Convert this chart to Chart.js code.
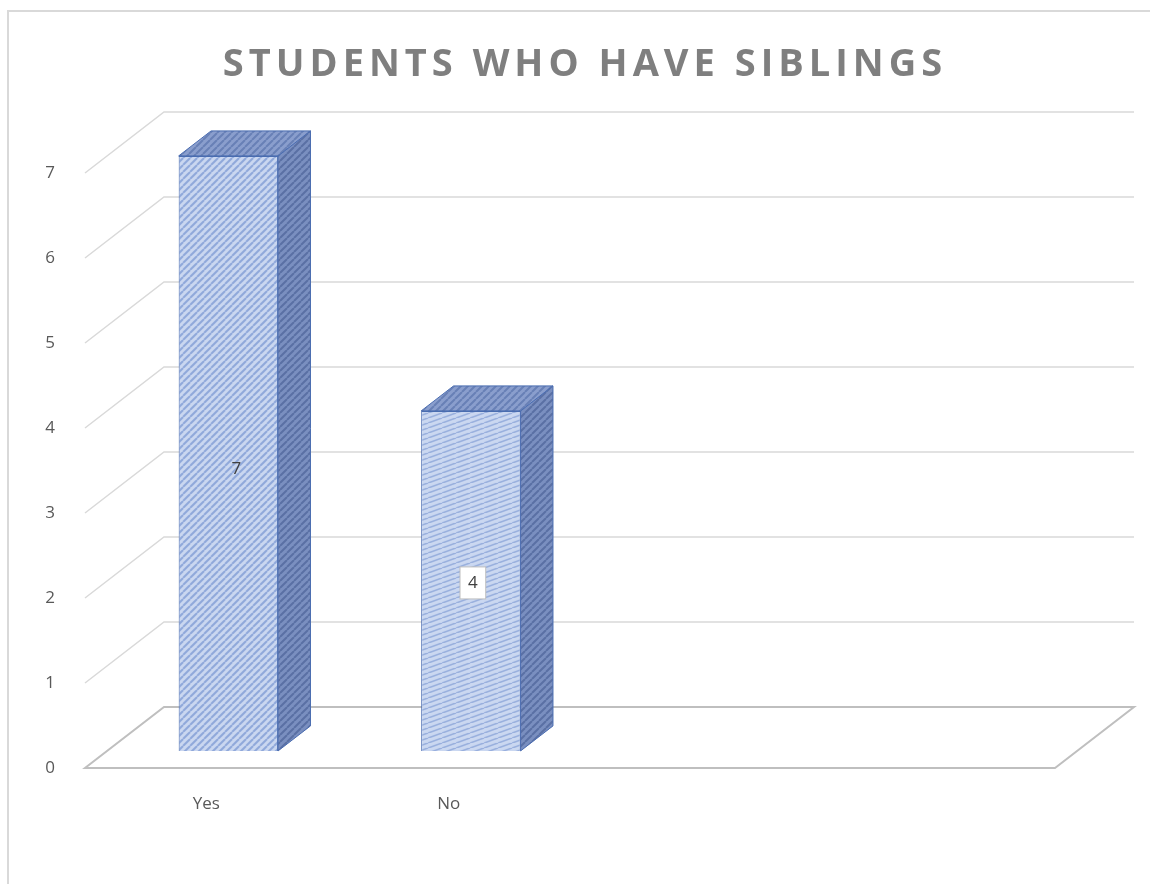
<!DOCTYPE html>
<html>
<head>
<meta charset="utf-8">
<script src="https://cdn.jsdelivr.net/npm/chart.js@4.4.1/dist/chart.umd.min.js"></script>
<style>
  html, body { margin: 0; padding: 0; background: #fff; }
  #wrap { position: relative; width: 1150px; height: 884px; overflow: hidden; }
  #frame { position: absolute; left: 7px; top: 10px; width: 1200px; height: 900px;
           border-left: 2px solid #d9d9d9; border-top: 2px solid #d9d9d9; }
  canvas { position: absolute; left: 0; top: 0; }
</style>
</head>
<body>
<div id="wrap">
  <div id="frame"></div>
  <canvas id="siblingsChart" width="1150" height="884"></canvas>
</div>
<script>
// --- data ---
const categories = ['Yes', 'No', '', ''];
const siblingCounts = [7, 4, null, null];
const yMin = 0;
const yMax = 7;

// --- fake 3D depth (pixels of full floor depth) ---
const DX = 79, DY = -61;
const FRONT = 0.28, BACK = 0.69;   // where the bars sit inside the depth

function stripes(bg, fg, w, h, lw) {
  const c = document.createElement('canvas');
  c.width = w; c.height = h;
  const g = c.getContext('2d');
  g.fillStyle = bg;
  g.fillRect(0, 0, w, h);
  g.strokeStyle = fg;
  g.lineWidth = lw;
  g.beginPath();
  for (const o of [-w, 0, w]) { g.moveTo(o, h); g.lineTo(o + w, 0); }
  g.stroke();
  return g.createPattern(c, 'repeat');
}

const frontFills = [
  stripes('#cbd8f1', '#8ea7da', 7, 7, 2),
  stripes('#cbd8f1', '#97aedd', 14, 5, 1.6)
];
const sideFill = stripes('#7a8fc0', '#5a70a4', 7, 7, 2);
const topFill = stripes('#8a9ecd', '#6880b6', 7, 7, 2);
const edgeColor = '#4a6cb0';

const depthPlugin = {
  id: 'depth3d',
  afterLayout(chart) {
    // spaced-out title letters like the original
    const tb = chart.titleBlock;
    if (tb && !tb._spaced) {
      const draw = tb.draw.bind(tb);
      tb.draw = function () {
        chart.ctx.save();
        chart.ctx.letterSpacing = '5px';
        chart.ctx.translate(10, 0);
        draw();
        chart.ctx.restore();
      };
      tb._spaced = true;
    }
  },
  beforeDatasetsDraw(chart) {
    const { ctx, chartArea: a, scales: { y } } = chart;
    ctx.save();
    // back wall + left wall grid
    ctx.strokeStyle = '#d9d9d9';
    ctx.lineWidth = 1.5;
    y.ticks.forEach(t => {
      if (t.value === yMin) return;
      const py = y.getPixelForValue(t.value);
      ctx.beginPath();
      ctx.moveTo(a.left, py);
      ctx.lineTo(a.left + DX, py + DY);
      ctx.lineTo(a.right + DX, py + DY);
      ctx.stroke();
    });
    // floor
    const p0 = y.getPixelForValue(yMin);
    ctx.strokeStyle = '#bfbfbf';
    ctx.lineWidth = 2;
    ctx.beginPath();
    ctx.moveTo(a.left, p0);
    ctx.lineTo(a.right, p0);
    ctx.lineTo(a.right + DX, p0 + DY);
    ctx.lineTo(a.left + DX, p0 + DY);
    ctx.closePath();
    ctx.stroke();
    ctx.restore();

    // bars are drawn pushed back into the depth
    ctx.save();
    ctx.translate(DX * FRONT, DY * FRONT);
  },
  afterDatasetsDraw(chart, args, opts) {
    const { ctx } = chart;
    ctx.restore();
    const ox = DX * FRONT, oy = DY * FRONT;
    const dx = DX * (BACK - FRONT), dy = DY * (BACK - FRONT);
    const meta = chart.getDatasetMeta(0);
    ctx.save();
    ctx.strokeStyle = edgeColor;
    ctx.lineWidth = 1;
    meta.data.forEach((bar, i) => {
      const v = siblingCounts[i];
      if (v == null) return;
      const l = bar.x - bar.width / 2 + ox;
      const r = bar.x + bar.width / 2 + ox;
      const t = bar.y + oy;
      const b = bar.base + oy;
      // right side
      ctx.fillStyle = sideFill;
      ctx.beginPath();
      ctx.moveTo(r, t); ctx.lineTo(r + dx, t + dy);
      ctx.lineTo(r + dx, b + dy); ctx.lineTo(r, b);
      ctx.closePath(); ctx.fill(); ctx.stroke();
      // top
      ctx.fillStyle = topFill;
      ctx.beginPath();
      ctx.moveTo(l, t); ctx.lineTo(l + dx, t + dy);
      ctx.lineTo(r + dx, t + dy); ctx.lineTo(r, t);
      ctx.closePath(); ctx.fill(); ctx.stroke();

      // value label
      const cx = (l + r) / 2 + (opts.boxed[i] ? 2 : 8);
      const cy = (t + b) / 2 + (opts.boxed[i] ? 2 : 16);
      const txt = String(v);
      ctx.font = '17px "Open Sans"';
      ctx.textAlign = 'center';
      ctx.textBaseline = 'middle';
      if (opts.boxed[i]) {
        const w = ctx.measureText(txt).width + 16;
        ctx.fillStyle = '#ffffff';
        ctx.fillRect(cx - w / 2, cy - 16, w, 32);
        ctx.strokeStyle = '#bfbfbf';
        ctx.strokeRect(cx - w / 2, cy - 16, w, 32);
        ctx.strokeStyle = edgeColor;
      }
      ctx.fillStyle = '#404040';
      ctx.fillText(txt, cx, cy);
    });
    ctx.restore();
  }
};

const tickFont = { family: 'Open Sans', size: 17 };

new Chart(document.getElementById('siblingsChart'), {
  type: 'bar',
  data: {
    labels: categories,
    datasets: [{
      data: siblingCounts,
      backgroundColor: frontFills,
      borderColor: edgeColor,
      borderWidth: 1,
      barPercentage: 0.82,
      categoryPercentage: 0.5
    }]
  },
  options: {
    responsive: false,
    animation: false,
    layout: { padding: { left: 0, right: 0, top: 0, bottom: 0 } },
    plugins: {
      legend: { display: false },
      tooltip: { enabled: false },
      title: {
        display: true,
        text: 'STUDENTS WHO HAVE SIBLINGS',
        color: '#7f7f7f',
        font: { family: 'Open Sans', size: 38, weight: 'bold', lineHeight: 1.2 },
        padding: { top: 42, bottom: 173 - 42 - 45.6 }
      },
      depth3d: { boxed: [false, true] }
    },
    scales: {
      x: {
        grid: { display: false },
        border: { display: false },
        ticks: { padding: 18, color: '#595959', font: tickFont },
        afterFit: s => { s.height = 116; }
      },
      y: {
        min: yMin,
        max: yMax,
        grid: { display: false },
        border: { display: false },
        ticks: { stepSize: 1, padding: 22, color: '#595959', font: tickFont },
        afterFit: s => { s.width = 85; }
      },
      // empty strip on the right so the floor stops where it does in the original
      spacer: {
        position: 'right',
        grid: { display: false },
        border: { display: false },
        ticks: { display: false },
        afterFit: s => { s.width = 95; }
      }
    }
  },
  plugins: [depthPlugin]
});
</script>
</body>
</html>
